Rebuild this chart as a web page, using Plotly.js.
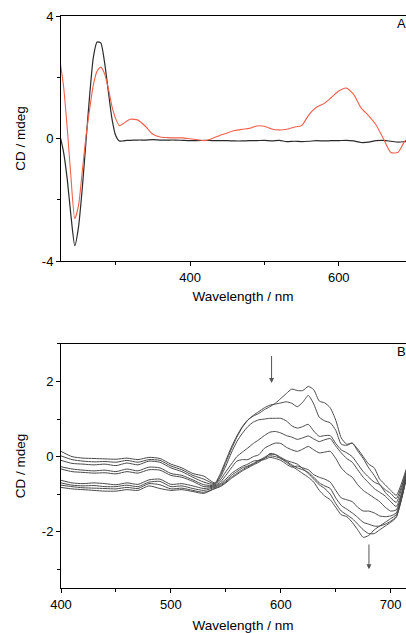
<!DOCTYPE html>
<html><head><meta charset="utf-8">
<script src="https://cdn.plot.ly/plotly-3.0.1.min.js"></script>
<style>html,body{margin:0;padding:0;overflow:hidden;background:#fff;width:406px;height:633px}#chart{width:440px;height:633px}</style>
</head><body><div id="chart"></div>
<script>
// ---- Panel A data ----
const wavelengthA = [226,230,235,240,245,250,255,260,265,270,275,280,285,290,295,300,305,310,315,320,
  330,340,350,360,370,380,390,400,410,420,430,440,450,460,470,480,490,500,510,520,
  530,540,550,560,570,580,590,600,610,620,630,640,650,660,670,680,690,700,710];
const cdA_black = [0.0,-0.45,-1.35,-2.55,-3.5,-2.9,-1.66,-0.12,1.4,2.65,3.15,3.12,2.5,1.57,0.65,0.1,-0.08,-0.08,-0.06,-0.06,
  -0.05,-0.05,-0.04,-0.05,-0.05,-0.05,-0.06,-0.07,-0.07,-0.06,-0.07,-0.07,-0.07,-0.08,-0.08,-0.07,-0.07,-0.06,-0.08,-0.06,
  -0.1,-0.09,-0.1,-0.09,-0.07,-0.08,-0.07,-0.07,-0.06,-0.08,-0.13,-0.12,-0.07,-0.06,-0.09,-0.12,-0.1,-0.08,-0.08];
const cdA_red = [2.4,1.7,0.3,-1.3,-2.62,-2.2,-1.1,0.05,0.95,1.75,2.2,2.33,2.12,1.65,1.05,0.65,0.42,0.48,0.57,0.63,
  0.6,0.4,0.14,0.05,0.03,0.02,0.02,-0.01,-0.04,-0.07,0.0,0.1,0.18,0.26,0.3,0.33,0.41,0.4,0.31,0.28,
  0.3,0.37,0.42,0.78,1.02,1.14,1.34,1.55,1.65,1.44,1.0,0.75,0.45,0.0,-0.46,-0.45,-0.06,-0.3,-0.35];

// ---- Panel B data ----
const wavelengthB = [400,410,420,430,440,450,460,470,480,490,500,510,520,530,
  540,545,550,555,560,565,570,575,580,585,590,595,600,605,610,615,620,625,630,635,
  640,645,650,655,660,665,670,675,680,685,690,695,700,705,710,714];
const cdB_1 = [0.14,0.0,-0.04,-0.05,-0.06,-0.07,-0.04,-0.08,-0.02,-0.05,-0.2,-0.3,-0.45,-0.52,
  -0.7,-0.45,-0.1,0.25,0.55,0.8,0.98,1.08,1.15,1.25,1.33,1.42,1.55,1.68,1.8,1.76,1.76,1.87,1.78,1.48,
  1.43,1.3,0.97,0.5,0.33,0.36,0.2,0.0,-0.2,-0.3,-0.6,-0.75,-0.9,-1.03,-0.7,-0.34];
const cdB_2 = [0.02,-0.08,-0.12,-0.14,-0.13,-0.15,-0.1,-0.15,-0.08,-0.1,-0.25,-0.35,-0.5,-0.6,
  -0.72,-0.5,-0.15,0.2,0.52,0.78,0.97,1.1,1.2,1.3,1.37,1.4,1.43,1.46,1.42,1.33,1.45,1.63,1.4,1.05,
  0.95,0.9,0.7,0.33,0.3,0.36,0.15,-0.05,-0.3,-0.5,-0.74,-0.88,-0.98,-1.12,-0.78,-0.4];
const cdB_3 = [-0.1,-0.18,-0.2,-0.22,-0.2,-0.24,-0.17,-0.22,-0.12,-0.15,-0.3,-0.4,-0.55,-0.68,
  -0.74,-0.55,-0.25,0.1,0.4,0.62,0.8,0.92,0.98,1.0,1.02,1.02,1.02,0.95,0.82,0.76,0.8,0.86,0.68,0.54,
  0.56,0.56,0.35,0.18,0.1,0.0,-0.2,-0.4,-0.55,-0.68,-0.75,-0.95,-1.1,-1.22,-0.85,-0.42];
const cdB_4 = [-0.27,-0.33,-0.36,-0.38,-0.36,-0.4,-0.33,-0.38,-0.28,-0.3,-0.45,-0.5,-0.62,-0.75,
  -0.76,-0.62,-0.4,-0.2,0.0,0.12,0.23,0.35,0.45,0.56,0.65,0.67,0.63,0.56,0.52,0.46,0.5,0.55,0.47,0.4,
  0.45,0.48,0.28,0.1,-0.05,-0.15,-0.35,-0.55,-0.7,-0.85,-0.95,-1.05,-1.2,-1.33,-0.95,-0.45];
const cdB_5 = [-0.33,-0.4,-0.42,-0.44,-0.43,-0.46,-0.4,-0.44,-0.35,-0.36,-0.5,-0.55,-0.66,-0.8,
  -0.78,-0.68,-0.5,-0.3,-0.12,-0.08,-0.08,0.0,0.05,0.22,0.3,0.36,0.35,0.25,0.18,0.14,0.2,0.27,0.18,0.1,
  0.12,0.14,-0.05,-0.3,-0.45,-0.55,-0.75,-0.9,-1.0,-1.1,-1.2,-1.35,-1.45,-1.42,-1.0,-0.5];
const cdB_6 = [-0.63,-0.7,-0.72,-0.7,-0.72,-0.75,-0.7,-0.74,-0.62,-0.6,-0.74,-0.72,-0.78,-0.85,
  -0.8,-0.72,-0.6,-0.45,-0.35,-0.26,-0.2,-0.12,-0.1,-0.08,-0.02,-0.05,-0.1,-0.2,-0.28,-0.25,-0.3,-0.35,-0.48,-0.55,
  -0.6,-0.68,-0.9,-1.1,-1.15,-1.2,-1.35,-1.45,-1.45,-1.5,-1.58,-1.6,-1.58,-1.5,-1.05,-0.55];
const cdB_7 = [-0.7,-0.76,-0.78,-0.77,-0.8,-0.8,-0.76,-0.8,-0.68,-0.66,-0.8,-0.78,-0.85,-0.9,
  -0.82,-0.75,-0.65,-0.5,-0.4,-0.3,-0.25,-0.18,-0.1,-0.02,0.06,0.05,-0.05,-0.12,-0.22,-0.3,-0.35,-0.42,-0.55,-0.7,
  -0.78,-0.85,-1.1,-1.3,-1.4,-1.5,-1.62,-1.75,-1.8,-1.85,-1.85,-1.8,-1.72,-1.6,-1.1,-0.58];
const cdB_8 = [-0.76,-0.8,-0.83,-0.84,-0.85,-0.86,-0.82,-0.85,-0.72,-0.75,-0.86,-0.84,-0.9,-0.95,
  -0.85,-0.78,-0.68,-0.55,-0.45,-0.35,-0.27,-0.2,-0.12,-0.05,0.08,0.06,-0.02,-0.1,-0.15,-0.2,-0.32,-0.45,-0.6,-0.75,
  -0.85,-1.0,-1.25,-1.45,-1.55,-1.65,-1.8,-1.95,-2.05,-2.05,-1.95,-1.85,-1.75,-1.62,-1.12,-0.6];
const cdB_9 = [-0.82,-0.86,-0.88,-0.9,-0.92,-0.92,-0.88,-0.9,-0.78,-0.85,-0.9,-0.88,-0.93,-0.98,
  -0.85,-0.8,-0.7,-0.58,-0.48,-0.38,-0.3,-0.22,-0.15,-0.05,0.02,0.0,-0.05,-0.15,-0.25,-0.35,-0.45,-0.55,-0.68,-0.9,
  -1.05,-1.15,-1.35,-1.55,-1.6,-1.75,-1.95,-2.15,-2.1,-1.95,-1.85,-1.75,-1.65,-1.55,-1.1,-0.6];

// ---- Tick labels ----
const tickA_x = [200, 400, 600, 800];
const tickA_xText = ['200', '400', '600', '800'];
const tickA_y = [-4, 0, 4];
const tickA_yText = ['-4', '0', '4'];
const tickB_x = [400, 500, 600, 700];
const tickB_xText = ['400', '500', '600', '700'];
const tickB_y = [-2, 0, 2];
const tickB_yText = ['-2', '0', '2'];
const minorA_x = [300, 500, 700];
const minorA_y = [-2, 2];
const minorB_x = [450, 550, 650];
const minorB_y = [-3, -1, 1, 3];

const FONT = 'Liberation Sans, Arial, Helvetica, sans-serif';
const seriesB = [cdB_1, cdB_2, cdB_3, cdB_4, cdB_5, cdB_6, cdB_7, cdB_8, cdB_9];

const traces = [
  {x: wavelengthA, y: cdA_black, xaxis: 'x', yaxis: 'y', mode: 'lines',
   line: {color: '#2a2a2a', width: 1.2, shape: 'spline', smoothing: 0.6}},
  {x: wavelengthA, y: cdA_red, xaxis: 'x', yaxis: 'y', mode: 'lines',
   line: {color: '#f2604c', width: 1.1, shape: 'spline', smoothing: 0.6}}
];
seriesB.forEach(s => traces.push({x: wavelengthB, y: s, xaxis: 'x2', yaxis: 'y2', mode: 'lines',
  line: {color: '#4a4a4a', width: 1, shape: 'spline', smoothing: 0.6}}));

const axisCommon = {showline: true, linecolor: '#000', linewidth: 1, mirror: true,
  ticks: 'outside', ticklen: 4, tickwidth: 1, tickcolor: '#000', showgrid: false, zeroline: false,
  tickmode: 'array', tickfont: {family: FONT, size: 13, color: '#000'}};
const titleFont = {family: FONT, size: 13.5, color: '#000'};
function minor(vals) { return {tickmode: 'array', tickvals: vals, ticks: 'outside', ticklen: 3, tickwidth: 1, tickcolor: '#000', showgrid: false}; }

const layout = {
  width: 440, height: 633,
  margin: {l: 61, r: 15, t: 0, b: 0},
  paper_bgcolor: '#fff', plot_bgcolor: '#fff',
  showlegend: false,
  xaxis: Object.assign({}, axisCommon, {anchor: 'y', range: [226.5, 716], tickvals: tickA_x, ticktext: tickA_xText,
    minor: minor(minorA_x), title: {text: 'Wavelength / nm', font: titleFont, standoff: 7}}),
  yaxis: Object.assign({}, axisCommon, {anchor: 'x', domain: [0.58768, 0.97472], range: [-4, 4], tickvals: tickA_y, ticktext: tickA_yText,
    minor: minor(minorA_y), title: {text: 'CD / mdeg', font: titleFont, standoff: 13}}),
  xaxis2: Object.assign({}, axisCommon, {anchor: 'y2', range: [400, 731.2], tickvals: tickB_x, ticktext: tickB_xText,
    minor: minor(minorB_x), title: {text: 'Wavelength / nm', font: titleFont, standoff: 9}}),
  yaxis2: Object.assign({}, axisCommon, {anchor: 'x2', domain: [0.07109, 0.45656], range: [-3.5, 3], tickvals: tickB_y, ticktext: tickB_yText,
    minor: minor(minorB_y), title: {text: 'CD / mdeg', font: titleFont, standoff: 13}}),
  annotations: [
    {text: 'A', xref: 'x domain', yref: 'y domain', x: 0.918, y: 0.971, xanchor: 'left', yanchor: 'middle', showarrow: false, font: {family: FONT, size: 13, color: '#000'}},
    {text: 'B', xref: 'x2 domain', yref: 'y2 domain', x: 0.918, y: 0.968, xanchor: 'left', yanchor: 'middle', showarrow: false, font: {family: FONT, size: 13, color: '#000'}},
    {text: '', xref: 'x2', yref: 'y2', axref: 'x2', ayref: 'y2', x: 591.6, y: 1.96, ax: 591.6, ay: 2.72,
     showarrow: true, arrowhead: 2, arrowsize: 1, arrowwidth: 1, arrowcolor: '#555'},
    {text: '', xref: 'x2', yref: 'y2', axref: 'x2', ayref: 'y2', x: 680.2, y: -3.0, ax: 680.2, ay: -2.3,
     showarrow: true, arrowhead: 2, arrowsize: 1, arrowwidth: 1, arrowcolor: '#555'}
  ]
};

Plotly.newPlot('chart', traces, layout, {staticPlot: true, displayModeBar: false});
</script>
</body></html>
